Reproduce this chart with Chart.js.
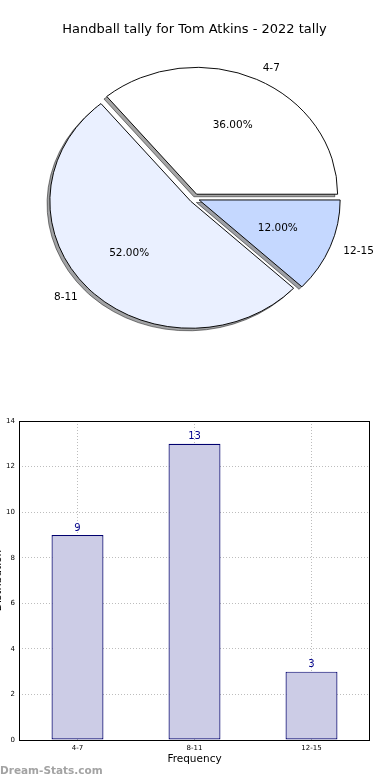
<!DOCTYPE html>
<html>
<head>
<meta charset="utf-8">
<script src="https://cdn.jsdelivr.net/npm/chart.js@4.4.1/dist/chart.umd.min.js"></script>
<style>
  html, body { margin: 0; padding: 0; background: #fff; }
  body { width: 390px; height: 780px; position: relative; overflow: hidden; font-family: "DejaVu Sans", sans-serif; }
  #pieBox { position: absolute; left: 0; top: 0; width: 390px; height: 400px; }
  #barBox { position: absolute; left: -8px; top: 400px; width: 398px; height: 380px; }
  #mark { position: absolute; left: 0; top: 764px; font: bold 10.5px "DejaVu Sans", sans-serif; color: #a3a3a3; }
</style>
</head>
<body>
<div id="pieBox"><canvas id="pie"></canvas></div>
<div id="barBox"><canvas id="bar"></canvas></div>
<div id="mark">Dream-Stats.com</div>
<script>
// data
const titleText = "Handball tally for Tom Atkins - 2022 tally";
const categories = ["4-7", "8-11", "12-15"];
const counts = [9, 13, 3];
const pieColors = ["#ffffff", "#eaf0ff", "#c5d8ff"];
const yTicksMax = 14;
const yTicksStep = 2;
const xTitle = "Frequency";
const yTitle = "Distribution";

const font = '"DejaVu Sans", sans-serif';
const squash = 0.9;   // pie is drawn as an ellipse
const explode = 5;
const total = counts.reduce((a, b) => a + b, 0);

// matplotlib goes counter clockwise from east, chart.js clockwise -> reverse
const pieLabels = categories.slice().reverse();
const pieValues = counts.slice().reverse();
const pieFill = pieColors.slice().reverse();

function drawArc(ctx, arc, dx, dy) {
  const mid = (arc.startAngle + arc.endAngle) / 2;
  ctx.save();
  ctx.translate(Math.cos(mid) * explode + dx, Math.sin(mid) * explode + dy);
  arc.draw(ctx);
  ctx.restore();
}

const piePlugin = {
  id: "piePlugin",
  beforeDatasetDraw(chart, args) {
    const ctx = chart.ctx;
    const arcs = args.meta.data;
    const cx = arcs[0].x, cy = arcs[0].y;
    ctx.save();
    ctx.translate(cx, cy);
    ctx.scale(1, squash);
    ctx.translate(-cx, -cy);
    // shadow
    ctx.save();
    ctx.filter = "brightness(0.3)";
    ctx.globalAlpha = 0.5;
    arcs.forEach(a => drawArc(ctx, a, -2.8, 2.8));
    ctx.restore();
    arcs.forEach(a => drawArc(ctx, a, 0, 0));
    ctx.restore();
    return false;
  },
  afterDatasetsDraw(chart) {
    const ctx = chart.ctx;
    const arcs = chart.getDatasetMeta(0).data;
    ctx.save();
    ctx.font = "10.5px " + font;
    ctx.fillStyle = "#000";
    ctx.textBaseline = "middle";
    arcs.forEach((a, i) => {
      const mid = (a.startAngle + a.endAngle) / 2;
      const c = Math.cos(mid), s = Math.sin(mid);
      const r = a.outerRadius;
      const pct = (pieValues[i] / total * 100).toFixed(2) + "%";
      let d = 0.6 * r + explode;
      ctx.textAlign = "center";
      ctx.fillText(pct, a.x + c * d, a.y + s * d * squash);
      d = 1.1 * r + explode;
      ctx.textAlign = c >= 0 ? "left" : "right";
      ctx.fillText(pieLabels[i], a.x + c * d, a.y + s * d * squash);
    });
    ctx.restore();
  }
};

new Chart(document.getElementById("pie"), {
  type: "pie",
  data: {
    labels: pieLabels,
    datasets: [{
      data: pieValues,
      backgroundColor: pieFill,
      borderColor: "#000",
      borderWidth: 1
    }]
  },
  options: {
    responsive: true,
    maintainAspectRatio: false,
    animation: false,
    events: [],
    rotation: 90,
    radius: 141,
    layout: { padding: { left: 0, right: 1, top: 0, bottom: 51 } },
    plugins: {
      legend: { display: false },
      tooltip: { enabled: false },
      title: {
        display: true,
        text: titleText,
        color: "#000",
        font: { family: font, size: 13, weight: "normal" },
        padding: { top: 22, bottom: 10 }
      }
    }
  },
  plugins: [piePlugin]
});

const barPlugin = {
  id: "barPlugin",
  afterDatasetsDraw(chart) {
    const ctx = chart.ctx;
    const area = chart.chartArea;
    ctx.save();
    ctx.font = "10px " + font;
    ctx.fillStyle = "#00008b";
    ctx.textAlign = "center";
    ctx.textBaseline = "bottom";
    chart.getDatasetMeta(0).data.forEach((bar, i) => {
      ctx.fillText(String(counts[i]), bar.x, bar.y - 2);
    });
    ctx.strokeStyle = "#000";
    ctx.lineWidth = 1;
    ctx.strokeRect(Math.round(area.left) + 0.5, Math.round(area.top) + 0.5,
      Math.round(area.right - area.left) - 1, Math.round(area.bottom - area.top));
    ctx.restore();
  }
};

new Chart(document.getElementById("bar"), {
  type: "bar",
  data: {
    labels: categories,
    datasets: [{
      data: counts,
      backgroundColor: "#ccccE6",
      borderColor: "#00006e",
      borderWidth: 1.2,
      borderSkipped: false,
      categoryPercentage: 1,
      barPercentage: 0.444
    }]
  },
  options: {
    responsive: true,
    maintainAspectRatio: false,
    animation: false,
    events: [],
    layout: { padding: { left: 0, right: 20, top: 21, bottom: 0 } },
    plugins: { legend: { display: false }, tooltip: { enabled: false } },
    scales: {
      x: {
        afterFit(scale) { scale.height = 40; },
        border: { display: false, dash: [1, 2] },
        grid: { offset: false, drawTicks: false, color: "#bdbdbd", lineWidth: 1 },
        ticks: { color: "#000", padding: 4, font: { family: font, size: 7 }, maxRotation: 0 },
        title: { display: true, text: xTitle, color: "#000", font: { family: font, size: 10.5 }, padding: { top: 0, bottom: 14 } }
      },
      y: {
        min: 0,
        max: yTicksMax,
        afterFit(scale) { scale.width = 27; },
        border: { display: false, dash: [1, 2] },
        grid: { drawTicks: false, color: "#bdbdbd", lineWidth: 1 },
        ticks: { stepSize: yTicksStep, color: "#000", padding: 4, font: { family: font, size: 7 } },
        title: { display: true, text: yTitle, color: "#000", font: { family: font, size: 10.5 }, padding: 0 }
      }
    }
  },
  plugins: [barPlugin]
});
</script>
</body>
</html>
